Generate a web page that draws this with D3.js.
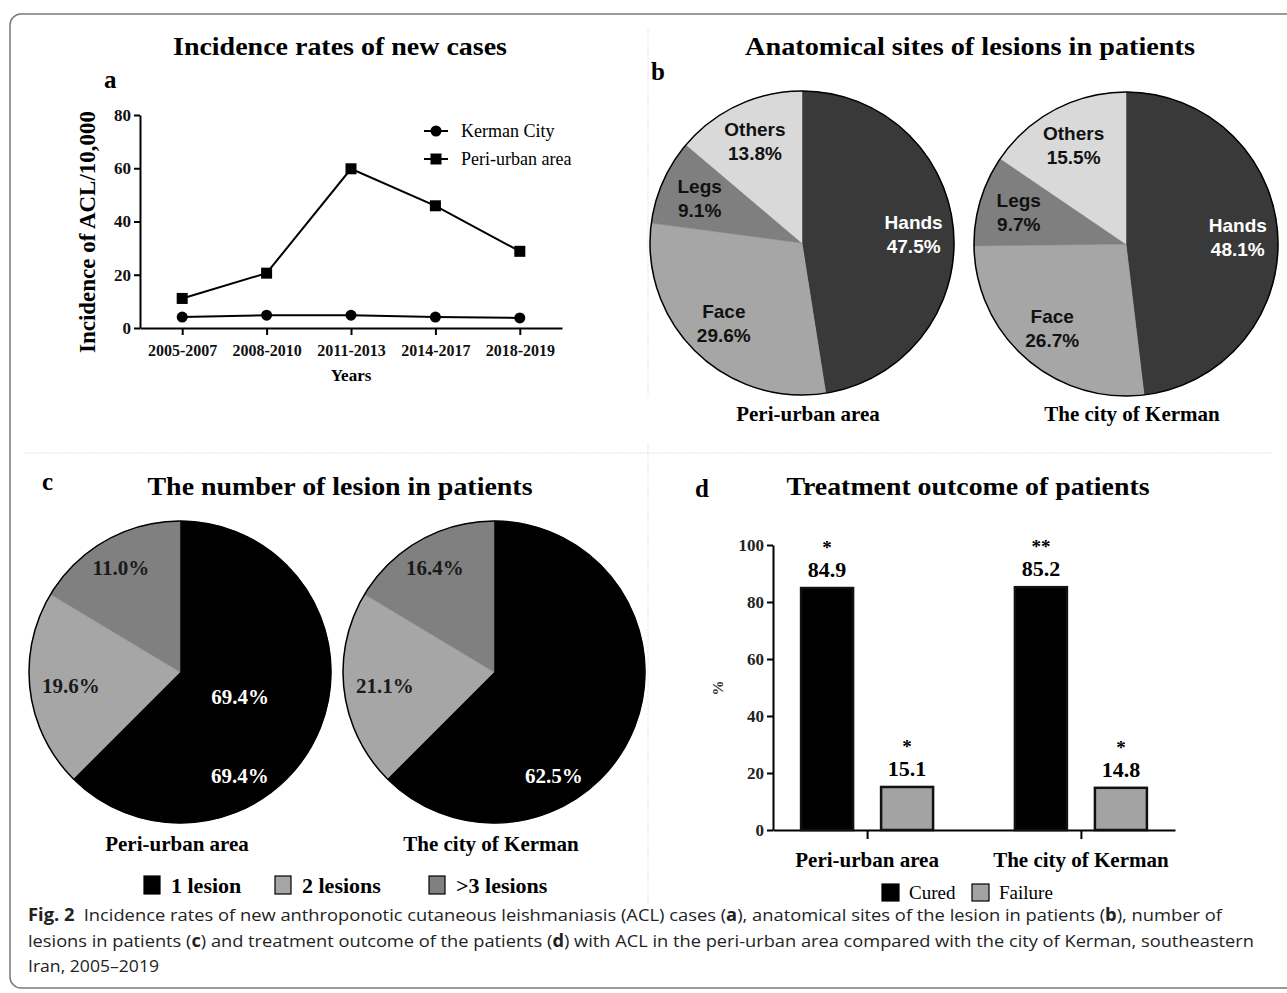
<!DOCTYPE html>
<html>
<head>
<meta charset="utf-8">
<script src="https://cdn.jsdelivr.net/npm/d3@7"></script>
<style>
  body { margin: 0; background: #fff; }
  svg { display: block; }
  .serif { font-family: "Liberation Serif", "Times New Roman", serif; }
  .sans { font-family: "Liberation Sans", Arial, sans-serif; }
</style>
</head>
<body>
<div id="chart"></div>
<script>
// panel a
const years = ["2005-2007", "2008-2010", "2011-2013", "2014-2017", "2018-2019"];
const kermanCity = [4.1, 4.8, 4.8, 4.1, 3.8];
const periUrban = [11.1, 20.6, 59.8, 45.9, 28.8];
const incidenceTicks = [0, 20, 40, 60, 80];

// panel b
const siteNames = ["Hands", "Face", "Legs", "Others"];
const sitesPeri = [47.5, 29.6, 9.1, 13.8];
const sitesCity = [48.1, 26.7, 9.7, 15.5];

// panel c (left pie is drawn with the same slice sizes as the right one in the figure)
const lesionNames = ["1 lesion", "2 lesions", ">3 lesions"];
const lesionPeriSlices = [62.5, 21.1, 16.4];
const lesionPeriLabels = ["69.4%", "19.6%", "11.0%"];
const lesionCity = [62.5, 21.1, 16.4];
const lesionCityLabels = ["62.5%", "21.1%", "16.4%"];

// panel d
const areas = ["Peri-urban area", "The city of Kerman"];
const outcomes = ["Cured", "Failure"];
const cured = [84.9, 85.2];
const failure = [15.1, 14.8];
const curedStars = ["*", "**"];
const failureStars = ["*", "*"];
const outcomeTicks = [0, 20, 40, 60, 80, 100];

const W = 1287, H = 993;
const svg = d3.select("#chart").append("svg")
  .attr("width", W).attr("height", H);

// frame + faint dividers
svg.append("rect")
  .attr("x", 10).attr("y", 14)
  .attr("width", 1320).attr("height", 974)
  .attr("rx", 11)
  .attr("fill", "none")
  .attr("stroke", "#7a7a7a")
  .attr("stroke-width", 1.5);

const divider = svg.append("g")
  .attr("stroke", "#e4e4e4")
  .attr("stroke-width", 1)
  .attr("stroke-dasharray", "2,1");
divider.append("line").attr("x1", 648).attr("x2", 648).attr("y1", 30).attr("y2", 396);
divider.append("line").attr("x1", 648).attr("x2", 648).attr("y1", 443).attr("y2", 905);
divider.append("line").attr("x1", 25).attr("x2", 1272).attr("y1", 453).attr("y2", 453);

function title(x, y, str, len) {
  svg.append("text")
    .attr("class", "serif")
    .attr("x", x).attr("y", y)
    .attr("text-anchor", "middle")
    .attr("font-weight", "bold")
    .attr("font-size", 26)
    .attr("textLength", len)
    .attr("lengthAdjust", "spacingAndGlyphs")
    .text(str);
}
function letter(x, y, str) {
  svg.append("text")
    .attr("class", "serif")
    .attr("x", x).attr("y", y)
    .attr("font-weight", "bold")
    .attr("font-size", 25)
    .text(str);
}

title(340, 55, "Incidence rates of new cases", 334);
title(970, 55, "Anatomical sites of lesions in patients", 450);
title(340, 495, "The number of lesion in patients", 385);
title(968, 495, "Treatment outcome of patients", 363);
letter(104, 88, "a");
letter(651, 80, "b");
letter(42, 490, "c");
letter(695, 497, "d");

// ---------- panel a: line chart ----------
const xA = d3.scalePoint(years, [140, 562]).padding(0.5);
const yA = d3.scaleLinear([0, 80], [328, 115]);

const gA = svg.append("g").attr("class", "serif");

gA.append("g")
  .attr("transform", `translate(0,${yA(0)})`)
  .call(d3.axisBottom(xA).tickSize(7).tickSizeOuter(0))
  .call((g) => g.select(".domain").attr("stroke-width", 2))
  .call((g) => g.selectAll(".tick line").attr("stroke-width", 2))
  .call((g) => g.selectAll(".tick text")
    .attr("class", "serif")
    .attr("font-size", 16)
    .attr("font-weight", "bold")
    .attr("fill", "#111")
    .attr("dy", "1.15em"));

gA.append("g")
  .attr("transform", `translate(140,0)`)
  .call(d3.axisLeft(yA).tickValues(incidenceTicks).tickSize(6).tickSizeOuter(0))
  .call((g) => g.select(".domain").attr("stroke-width", 2))
  .call((g) => g.selectAll(".tick line").attr("stroke-width", 2))
  .call((g) => g.selectAll(".tick text")
    .attr("class", "serif")
    .attr("font-size", 17)
    .attr("font-weight", "bold")
    .attr("fill", "#111"));

gA.append("text")
  .attr("transform", "translate(95,232) rotate(-90)")
  .attr("text-anchor", "middle")
  .attr("font-size", 23)
  .attr("font-weight", "bold")
  .text("Incidence of ACL/10,000");

gA.append("text")
  .attr("x", 351).attr("y", 381)
  .attr("text-anchor", "middle")
  .attr("font-size", 17)
  .attr("font-weight", "bold")
  .text("Years");

const lineA = d3.line()
  .x((d, i) => xA(years[i]))
  .y((d) => yA(d));

[kermanCity, periUrban].forEach((series, s) => {
  gA.append("path")
    .attr("d", lineA(series))
    .attr("fill", "none")
    .attr("stroke", "#000")
    .attr("stroke-width", 2);
  if (s === 0) {
    gA.selectAll(null).data(series).join("circle")
      .attr("cx", (d, i) => xA(years[i]))
      .attr("cy", (d) => yA(d))
      .attr("r", 5.5);
  } else {
    gA.selectAll(null).data(series).join("rect")
      .attr("x", (d, i) => xA(years[i]) - 5.5)
      .attr("y", (d) => yA(d) - 5.5)
      .attr("width", 11).attr("height", 11);
  }
});

// legend a
const legA = gA.append("g").attr("transform", "translate(424,131)");
["Kerman City", "Peri-urban area"].forEach((name, i) => {
  const row = legA.append("g").attr("transform", `translate(0,${i * 28})`);
  row.append("line").attr("x1", 0).attr("x2", 24).attr("stroke", "#000").attr("stroke-width", 2);
  if (i === 0) row.append("circle").attr("cx", 12).attr("r", 5.5);
  else row.append("rect").attr("x", 6.5).attr("y", -5.5).attr("width", 11).attr("height", 11);
  row.append("text")
    .attr("x", 37).attr("y", 6)
    .attr("font-size", 18)
    .text(name);
});

// ---------- panel b: pies ----------
const pie = d3.pie().sort(null).value((d) => d);
const siteColors = d3.scaleOrdinal(siteNames, ["#393939", "#a6a6a6", "#7f7f7f", "#d9d9d9"]);
const siteText = d3.scaleOrdinal(siteNames, ["#fff", "#111", "#111", "#111"]);

function sitePie(cx, cy, values, caption) {
  const R = 152;
  const arc = d3.arc().innerRadius(0).outerRadius(R);
  const labelArc = d3.arc().innerRadius(112).outerRadius(112);
  const g = svg.append("g").attr("transform", `translate(${cx},${cy})`);
  const arcs = pie(values);
  g.selectAll("path").data(arcs).join("path")
    .attr("d", arc)
    .attr("fill", (d, i) => siteColors(siteNames[i]))
    .attr("stroke", (d, i) => siteColors(siteNames[i]))
    .attr("stroke-width", 0.5);
  g.append("circle").attr("r", R).attr("fill", "none").attr("stroke", "#000").attr("stroke-width", 1.5);
  const lab = g.selectAll("g.lab").data(arcs).join("g")
    .attr("class", "lab sans")
    .attr("transform", (d) => `translate(${labelArc.centroid(d)})`)
    .attr("text-anchor", "middle")
    .attr("font-weight", "bold")
    .attr("font-size", 19)
    .attr("fill", (d, i) => siteText(siteNames[i]));
  lab.append("text").attr("y", -5).text((d, i) => siteNames[i]);
  lab.append("text").attr("y", 19).text((d) => d.data.toFixed(1) + "%");
  svg.append("text")
    .attr("class", "serif")
    .attr("x", cx + 6).attr("y", 421)
    .attr("text-anchor", "middle")
    .attr("font-weight", "bold")
    .attr("font-size", 21)
    .text(caption);
}
sitePie(802, 243, sitesPeri, "Peri-urban area");
sitePie(1126, 244, sitesCity, "The city of Kerman");

// ---------- panel c: pies ----------
const lesionColors = d3.scaleOrdinal(lesionNames, ["#000", "#a6a6a6", "#808080"]);
const lesionText = d3.scaleOrdinal(lesionNames, ["#fff", "#1a1a1a", "#1a1a1a"]);

function lesionPie(cx, cy, values, labels, caption, extra) {
  const R = 151;
  const arc = d3.arc().innerRadius(0).outerRadius(R);
  const g = svg.append("g").attr("transform", `translate(${cx},${cy})`);
  const arcs = pie(values);
  g.selectAll("path").data(arcs).join("path")
    .attr("d", arc)
    .attr("fill", (d, i) => lesionColors(lesionNames[i]))
    .attr("stroke", (d, i) => lesionColors(lesionNames[i]))
    .attr("stroke-width", 0.5);
  g.append("circle").attr("r", R).attr("fill", "none").attr("stroke", "#000").attr("stroke-width", 1.5);
  const pos = (d, i, r) => {
    const f = i === 0 ? 0.667 : 0.5;
    const a = d.startAngle + (d.endAngle - d.startAngle) * f;
    return [Math.sin(a) * r, -Math.cos(a) * r];
  };
  g.selectAll("text").data(arcs).join("text")
    .attr("class", "serif")
    .attr("transform", (d, i) => `translate(${pos(d, i, i === 1 ? 110 : 120)})`)
    .attr("text-anchor", "middle")
    .attr("dy", "0.35em")
    .attr("font-weight", "bold")
    .attr("font-size", 21)
    .attr("fill", (d, i) => lesionText(lesionNames[i]))
    .text((d, i) => labels[i]);
  if (extra) {
    const c = d3.arc().innerRadius(65).outerRadius(65).centroid(arcs[0]);
    g.append("text")
      .attr("class", "serif")
      .attr("x", c[0]).attr("y", c[1])
      .attr("text-anchor", "middle")
      .attr("dy", "0.35em")
      .attr("font-weight", "bold")
      .attr("font-size", 21)
      .attr("fill", "#fff")
      .text(labels[0]);
  }
  svg.append("text")
    .attr("class", "serif")
    .attr("x", cx - 3).attr("y", 851)
    .attr("text-anchor", "middle")
    .attr("font-weight", "bold")
    .attr("font-size", 21)
    .text(caption);
}
lesionPie(180, 672, lesionPeriSlices, lesionPeriLabels, "Peri-urban area", true);
lesionPie(494, 672, lesionCity, lesionCityLabels, "The city of Kerman", false);

// legend c
const legC = svg.append("g").attr("class", "serif").attr("transform", "translate(144,876)");
const legCx = [0, 131, 285];
lesionNames.forEach((name, i) => {
  const item = legC.append("g").attr("transform", `translate(${legCx[i]},0)`);
  item.append("rect")
    .attr("width", 16).attr("height", 18)
    .attr("fill", lesionColors(name))
    .attr("stroke", "#000").attr("stroke-width", 1.2);
  item.append("text")
    .attr("x", 27).attr("y", 17)
    .attr("font-weight", "bold")
    .attr("font-size", 22)
    .text(name);
});

// ---------- panel d: bars ----------
const xD = d3.scalePoint(areas, [773, 1175]).padding(0.44);
const xSub = d3.scaleBand(outcomes, [-80, 80]).paddingInner(0.35).paddingOuter(0.175);
const yD = d3.scaleLinear([0, 100], [830, 545]);
const outcomeColors = d3.scaleOrdinal(outcomes, ["#000", "#a3a3a3"]);

const gD = svg.append("g").attr("class", "serif");

gD.append("g")
  .attr("transform", `translate(773,0)`)
  .call(d3.axisLeft(yD).tickValues(outcomeTicks).tickSize(6).tickSizeOuter(0))
  .call((g) => g.select(".domain").attr("stroke-width", 2))
  .call((g) => g.selectAll(".tick line").attr("stroke-width", 2))
  .call((g) => g.selectAll(".tick text")
    .attr("class", "serif")
    .attr("font-size", 17)
    .attr("font-weight", "bold")
    .attr("fill", "#222"));

gD.append("g")
  .attr("transform", `translate(0,${yD(0)})`)
  .call(d3.axisBottom(xD).tickSize(9).tickSizeOuter(0).tickFormat(""))
  .call((g) => g.select(".domain").attr("stroke-width", 2))
  .call((g) => g.selectAll(".tick line").attr("stroke-width", 2));

gD.selectAll("text.area").data(areas).join("text")
  .attr("class", "area")
  .attr("x", (d) => xD(d))
  .attr("y", 867)
  .attr("text-anchor", "middle")
  .attr("font-weight", "bold")
  .attr("font-size", 21)
  .text((d) => d);

gD.append("text")
  .attr("transform", "translate(723,688) rotate(-90)")
  .attr("text-anchor", "middle")
  .attr("font-weight", "bold")
  .attr("font-size", 15)
  .attr("fill", "#333")
  .text("%");

const barRows = [];
areas.forEach((a, i) => {
  barRows.push({ area: a, outcome: "Cured", value: cured[i], star: curedStars[i] });
  barRows.push({ area: a, outcome: "Failure", value: failure[i], star: failureStars[i] });
});

gD.selectAll("rect.bar").data(barRows).join("rect")
  .attr("class", "bar")
  .attr("x", (d) => xD(d.area) + xSub(d.outcome))
  .attr("y", (d) => yD(d.value))
  .attr("width", xSub.bandwidth())
  .attr("height", (d) => yD(0) - yD(d.value))
  .attr("fill", (d) => outcomeColors(d.outcome))
  .attr("stroke", "#111")
  .attr("stroke-width", 2.5);

gD.selectAll("text.val").data(barRows).join("text")
  .attr("class", "val")
  .attr("x", (d) => xD(d.area) + xSub(d.outcome) + xSub.bandwidth() / 2)
  .attr("y", (d) => yD(d.value) - 11)
  .attr("text-anchor", "middle")
  .attr("font-weight", "bold")
  .attr("font-size", 22)
  .text((d) => d.value.toFixed(1));

gD.selectAll("text.star").data(barRows).join("text")
  .attr("class", "star")
  .attr("x", (d) => xD(d.area) + xSub(d.outcome) + xSub.bandwidth() / 2)
  .attr("y", (d) => yD(d.value) - 34)
  .attr("text-anchor", "middle")
  .attr("font-weight", "bold")
  .attr("font-size", 19)
  .text((d) => d.star);

// legend d
const legD = gD.append("g").attr("transform", "translate(882,884)");
outcomes.forEach((name, i) => {
  const item = legD.append("g").attr("transform", `translate(${i * 90},0)`);
  item.append("rect")
    .attr("width", 17).attr("height", 17)
    .attr("fill", outcomeColors(name))
    .attr("stroke", "#000").attr("stroke-width", 1.2);
  item.append("text")
    .attr("x", 27).attr("y", 15)
    .attr("font-size", 19)
    .text(name);
});

// ---------- caption ----------
const cap = svg.append("g")
  .attr("font-family", "'Open Sans', 'Noto Sans', sans-serif")
  .attr("font-size", 17)
  .attr("fill", "#222");

const line1 = cap.append("text").attr("x", 28).attr("y", 921)
  .attr("textLength", 1194).attr("lengthAdjust", "spacingAndGlyphs");
line1.append("tspan").attr("font-weight", "bold").text("Fig. 2");
line1.append("tspan").text("\u2002Incidence rates of new anthroponotic cutaneous leishmaniasis (ACL) cases (");
line1.append("tspan").attr("font-weight", "bold").text("a");
line1.append("tspan").text("), anatomical sites of the lesion in patients (");
line1.append("tspan").attr("font-weight", "bold").text("b");
line1.append("tspan").text("), number of");

const line2 = cap.append("text").attr("x", 28).attr("y", 947)
  .attr("textLength", 1226).attr("lengthAdjust", "spacingAndGlyphs");
line2.append("tspan").text("lesions in patients (");
line2.append("tspan").attr("font-weight", "bold").text("c");
line2.append("tspan").text(") and treatment outcome of the patients (");
line2.append("tspan").attr("font-weight", "bold").text("d");
line2.append("tspan").text(") with ACL in the peri-urban area compared with the city of Kerman, southeastern");

cap.append("text").attr("x", 28).attr("y", 972)
  .attr("textLength", 131).attr("lengthAdjust", "spacingAndGlyphs")
  .text("Iran, 2005\u20132019");
</script>
</body>
</html>
